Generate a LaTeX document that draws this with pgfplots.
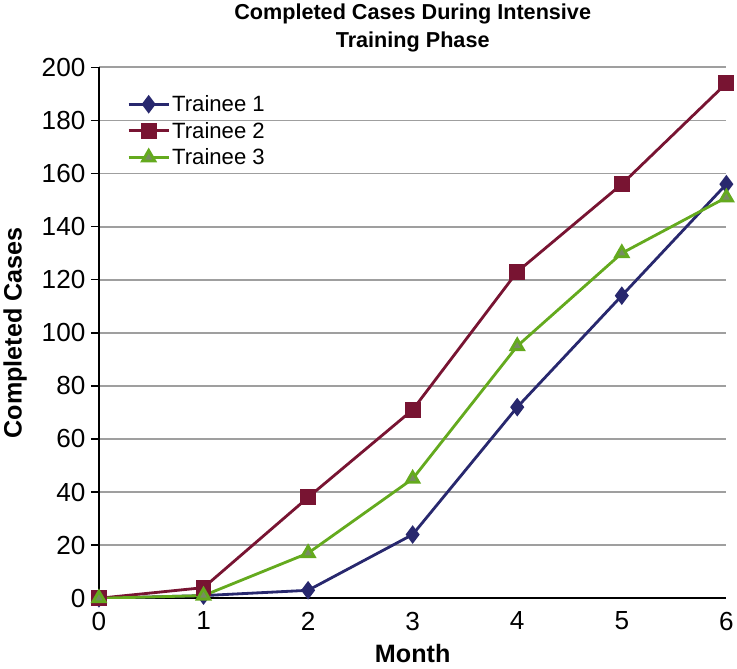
\documentclass[border=0pt]{standalone}
\usepackage{pgfplots}
\pgfplotsset{compat=1.18}
\usepackage{fontspec}
\setmainfont{Liberation Sans}
\definecolor{tone}{RGB}{40,40,110}
\definecolor{ttwo}{RGB}{120,20,50}
\definecolor{tthree}{RGB}{100,170,30}
\begin{document}
\begin{tikzpicture}
  \begin{axis}[
      scale only axis,
      width=624pt, height=528pt,
      xmin=0, xmax=6, ymin=0, ymax=200,
      xtick={0,...,6}, ytick={0,20,...,200},
      axis x line*=bottom, axis y line*=left,
      axis line style={line width=2pt, -},
      ytick style={line width=1.4pt, black},
      xtick style={draw=none},
      major tick length=8pt,
      tick align=outside,
      ymajorgrids=true,
      grid style={gray!75, line width=1.8pt},
      ticklabel style={font=\fontsize{26}{30}\selectfont},
      xticklabel style={yshift=-2pt},
      yticklabel style={xshift=-2pt},
      /pgf/number format/assume math mode=true,
      xlabel={\textbf{Month}},
      ylabel={\textbf{Completed Cases}},
      label style={font=\fontsize{25}{30}\selectfont},
      xlabel style={yshift=-4pt, inner ysep=6pt},
      ylabel style={yshift=8pt},
      title={\textbf{Completed Cases During Intensive}\\\textbf{Training Phase}},
      title style={font=\fontsize{21.5}{28}\selectfont, align=center, yshift=6pt},
      legend style={at={(0.04,0.955)}, anchor=north west, draw=none, fill=none,
        font=\fontsize{22}{26}\selectfont, row sep=5pt},
      legend cell align=left,
      legend image code/.code={\draw[mark repeat=2, mark phase=2]
        plot coordinates {(0cm,0cm) (0.7cm,0cm) (1.4cm,0cm)};},
      every axis plot/.append style={line width=2.8pt},
    ]
    \addplot[color=tone, mark=diamond*, mark size=7pt, mark options={fill=tone}]
      coordinates {(0,0) (1,1) (2,3) (3,24) (4,72) (5,114) (6,156)};
    \addplot[color=ttwo, mark=square*, mark size=6.5pt, mark options={fill=ttwo}]
      coordinates {(0,0) (1,4) (2,38) (3,71) (4,123) (5,156) (6,194)};
    \addplot[color=tthree, mark=triangle*, mark size=7pt, mark options={fill=gray!70!tthree, draw=tthree}]
      coordinates {(0,0) (1,1) (2,17) (3,45) (4,95) (5,130) (6,151)};
    \legend{Trainee 1, Trainee 2, Trainee 3}
  \end{axis}
\end{tikzpicture}
\end{document}
